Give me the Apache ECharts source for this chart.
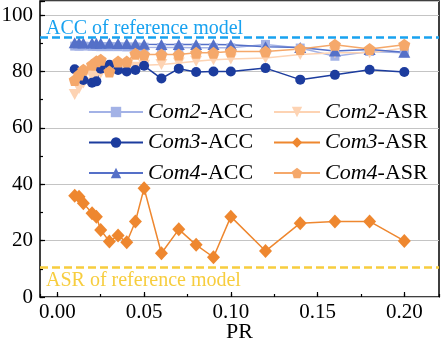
<!DOCTYPE html>
<html>
<head>
<meta charset="utf-8">
<script src="https://cdn.jsdelivr.net/npm/echarts@6/dist/echarts.min.js"></script>
<style>
  html, body { margin: 0; padding: 0; background: #fff; }
  #chart { width: 442px; height: 344px; }
</style>
</head>
<body>
<div id="chart"></div>
<script>
// PR 取值 (x 轴)
var prValues = [0.01, 0.0125, 0.015, 0.02, 0.0225, 0.025, 0.03, 0.035, 0.04, 0.045, 0.05,
  0.06, 0.07, 0.08, 0.09, 0.1, 0.12, 0.14, 0.16, 0.18, 0.2];

var com2Acc = [89.0, 89.0, 89.0, 88.9, 88.9, 88.8, 88.8, 88.8, 88.7, 88.7, 88.6,
  88.5, 88.5, 88.4, 88.4, 88.4, 89.6, 88.3, 85.4, 87.1, 86.6];
var com2Asr = [71.8, 74.0, 75.9, 78.3, 79.0, 79.5, 80.0, 80.6, 81.0, 81.5, 82.2,
  82.5, 83.0, 83.6, 84.2, 84.4, 84.8, 86.0, 86.6, 86.6, 88.3];
var com3Acc = [80.8, 78.0, 77.0, 76.0, 76.5, 81.0, 82.4, 80.5, 80.0, 80.5, 82.0,
  77.5, 81.0, 79.8, 80.0, 80.0, 81.2, 77.1, 78.8, 80.6, 79.8];
var com3Asr = [35.9, 35.6, 33.3, 29.7, 28.5, 23.8, 19.7, 21.8, 19.4, 26.8, 38.6,
  15.5, 24.0, 18.5, 14.1, 28.5, 16.3, 26.2, 26.8, 26.8, 19.9];
var com4Acc = [90.2, 90.2, 90.1, 90.1, 90.0, 90.0, 90.0, 89.9, 89.9, 89.8, 89.7,
  89.6, 89.6, 89.6, 89.6, 89.5, 88.8, 88.5, 87.3, 87.8, 86.8];
var com4Asr = [77.0, 78.9, 80.6, 82.4, 83.6, 84.2, 80.0, 83.5, 83.5, 86.3, 86.0,
  86.0, 86.0, 86.6, 86.6, 87.1, 87.1, 88.0, 89.5, 88.0, 89.5];

// 参考模型
var refAcc = 92.3;
var refAsr = 10.5;

var serif = "Liberation Serif";
var pentagon = "path://M0,-10 L9.51,-3.09 L5.88,8.09 L-5.88,8.09 L-9.51,-3.09 Z";

function pairs(ys) {
  return prValues.map(function (x, i) { return [x, ys[i]]; });
}

function makeSeries(name, ys, color, symbol, size, rotate) {
  return {
    name: name,
    type: "line",
    data: pairs(ys),
    symbol: symbol,
    symbolSize: size,
    symbolRotate: rotate || 0,
    showAllSymbol: true,
    color: color,
    lineStyle: { color: color, width: 1.5 },
    itemStyle: { color: color }
  };
}

var series = [
  makeSeries("Com2-ACC", com2Acc, "#a3b2e6", "rect", 9),
  makeSeries("Com2-ASR", com2Asr, "#fdd3b3", "triangle", [12, 11], 180),
  makeSeries("Com3-ACC", com3Acc, "#1c3c9e", "circle", 10),
  makeSeries("Com3-ASR", com3Asr, "#ee872f", "diamond", [13, 14]),
  makeSeries("Com4-ACC", com4Acc, "#5570c8", "triangle", [12, 11]),
  makeSeries("Com4-ASR", com4Asr, "#f5a86a", pentagon, 12)
];

// 参考线挂在第一条线上
series[0].markLine = {
  silent: true,
  symbol: "none",
  animation: false,
  data: [
    {
      yAxis: refAcc,
      lineStyle: { color: "#18a2f0", width: 2.5, type: [8, 4] },
      label: {
        formatter: "ACC of reference model", position: "insideStartTop",
        distance: [6, -2], color: "#18a2f0", fontFamily: serif, fontSize: 20
      }
    },
    {
      yAxis: refAsr,
      lineStyle: { color: "#f7cd3e", width: 2.5, type: [8, 4] },
      label: {
        formatter: "ASR of reference model", position: "insideStartBottom",
        distance: [6, 3], color: "#f7cd3e", fontFamily: serif, fontSize: 20
      }
    }
  ]
};

function legendText(name) {
  var p = name.split("-");
  return "{i|" + p[0] + "}{n|-" + p[1] + "}";
}

var legendRich = {
  i: { fontFamily: serif, fontStyle: "italic", fontSize: 22, lineHeight: 24, color: "#000" },
  n: { fontFamily: serif, fontSize: 22, lineHeight: 24, color: "#000" }
};

function isMajor(v, step) {
  var r = v / step;
  return Math.abs(r - Math.round(r)) < 1e-6;
}

var chart = echarts.init(document.getElementById("chart"), null, { renderer: "canvas" });
chart.setOption({
  animation: false,
  backgroundColor: "#fff",
  grid: {
    left: 40, right: 3, top: 1, bottom: 47,
    outerBoundsMode: "none", containLabel: false,
    show: true, borderColor: "#000", borderWidth: 1.5
  },
  legend: [
    {
      data: ["Com2-ACC", "Com3-ACC", "Com4-ACC"],
      orient: "vertical", left: 88, top: 101, padding: 0,
      itemWidth: 54, itemHeight: 13, itemGap: 8.5,
      symbolRotate: "inherit",
      formatter: legendText, textStyle: { rich: legendRich }
    },
    {
      data: ["Com2-ASR", "Com3-ASR", "Com4-ASR"],
      orient: "vertical", left: 273, top: 101, padding: 0,
      itemWidth: 46, itemHeight: 13, itemGap: 8.5,
      symbolRotate: "inherit",
      formatter: legendText, textStyle: { rich: legendRich }
    }
  ],
  xAxis: [
    {
      type: "value", position: "bottom",
      min: -0.01, max: 0.22, splitNumber: 5, minInterval: 0.05, maxInterval: 0.05,
      name: "PR", nameLocation: "middle", nameGap: 24, nameMoveOverlap: false,
      nameTextStyle: { fontFamily: serif, fontSize: 22, color: "#000" },
      axisLine: { show: false, onZero: false },
      axisTick: { inside: true, length: 5, lineStyle: { color: "#000", width: 1.2 } },
      axisLabel: {
        fontFamily: serif, fontSize: 21, color: "#000", margin: 5,
        showMinLabel: false, showMaxLabel: false,
        formatter: function (v) { return isMajor(v, 0.05) ? v.toFixed(2) : ""; }
      },
      splitLine: { show: false }
    },
    {
      // 次刻度
      type: "value", position: "bottom",
      min: -0.01, max: 0.22, splitNumber: 9, minInterval: 0.025, maxInterval: 0.025,
      axisLine: { show: false, onZero: false },
      axisTick: { inside: true, length: 3, lineStyle: { color: "#000", width: 1.2 } },
      axisLabel: { show: false },
      splitLine: { show: false }
    }
  ],
  yAxis: [
    {
      type: "value", position: "left",
      min: 0, max: 105, interval: 20,
      axisLine: { show: false, onZero: false },
      axisTick: { inside: true, length: 5, lineStyle: { color: "#000", width: 1.2 } },
      axisLabel: {
        fontFamily: serif, fontSize: 21, color: "#000", margin: 7,
        formatter: function (v) { return v <= 100 ? String(v) : ""; }
      },
      splitLine: { show: true, lineStyle: { color: "#c4c4c4", width: 1 } }
    },
    {
      type: "value", position: "left",
      min: 0, max: 105, interval: 10,
      axisLine: { show: false, onZero: false },
      axisTick: { inside: true, length: 3, lineStyle: { color: "#000", width: 1.2 } },
      axisLabel: { show: false },
      splitLine: { show: false }
    }
  ],
  series: series
});
</script>
</body>
</html>
